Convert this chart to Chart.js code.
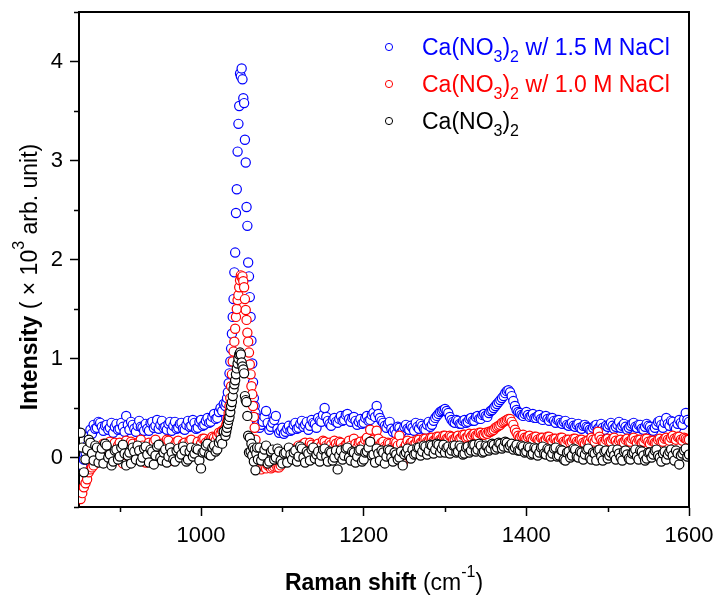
<!DOCTYPE html>
<html>
<head>
<meta charset="utf-8">
<title>Raman spectra</title>
<script src="https://cdn.jsdelivr.net/npm/chart.js@4.4.0/dist/chart.umd.min.js"></script>
<style>
  html, body { margin: 0; padding: 0; background: #fff; }
  canvas { display: block; }
</style>
</head>
<body>
<canvas id="spectra" width="717" height="596"></canvas>
<script>
const FONT = "'Liberation Sans', Arial, sans-serif";

// Raman shift (cm-1): 2 cm-1 steps, 1 cm-1 across the 1050 band
const ramanShift = [
  852, 854, 856, 858, 860, 862, 864, 866, 868, 870,
  872, 874, 876, 878, 880, 882, 884, 886, 888, 890,
  892, 894, 896, 898, 900, 902, 904, 906, 908, 910,
  912, 914, 916, 918, 920, 922, 924, 926, 928, 930,
  932, 934, 936, 938, 940, 942, 944, 946, 948, 950,
  952, 954, 956, 958, 960, 962, 964, 966, 968, 970,
  972, 974, 976, 978, 980, 982, 984, 986, 988, 990,
  992, 994, 996, 998, 1000, 1002, 1004, 1006, 1008, 1010,
  1012, 1014, 1016, 1018, 1020, 1022, 1024, 1026, 1028,
  1030, 1031, 1032, 1033, 1034, 1035, 1036, 1037, 1038, 1039,
  1040, 1041, 1042, 1043, 1044, 1045, 1046, 1047, 1048, 1049,
  1050, 1051, 1052, 1053, 1054, 1055, 1056, 1057, 1058, 1059,
  1060, 1061, 1062, 1063, 1064, 1065, 1066, 1067, 1068, 1069,
  1070,
  1072, 1074, 1076, 1078, 1080, 1082, 1084, 1086, 1088, 1090,
  1092, 1094, 1096, 1098, 1100, 1102, 1104, 1106, 1108, 1110,
  1112, 1114, 1116, 1118, 1120, 1122, 1124, 1126, 1128, 1130,
  1132, 1134, 1136, 1138, 1140, 1142, 1144, 1146, 1148, 1150,
  1152, 1154, 1156, 1158, 1160, 1162, 1164, 1166, 1168, 1170,
  1172, 1174, 1176, 1178, 1180, 1182, 1184, 1186, 1188, 1190,
  1192, 1194, 1196, 1198, 1200, 1202, 1204, 1206, 1208, 1210,
  1212, 1214, 1216, 1218, 1220, 1222, 1224, 1226, 1228, 1230,
  1232, 1234, 1236, 1238, 1240, 1242, 1244, 1246, 1248, 1250,
  1252, 1254, 1256, 1258, 1260, 1262, 1264, 1266, 1268, 1270,
  1272, 1274, 1276, 1278, 1280, 1282, 1284, 1286, 1288, 1290,
  1292, 1294, 1296, 1298, 1300, 1302, 1304, 1306, 1308, 1310,
  1312, 1314, 1316, 1318, 1320, 1322, 1324, 1326, 1328, 1330,
  1332, 1334, 1336, 1338, 1340, 1342, 1344, 1346, 1348, 1350,
  1352, 1354, 1356, 1358, 1360, 1362, 1364, 1366, 1368, 1370,
  1372, 1374, 1376, 1378, 1380, 1382, 1384, 1386, 1388, 1390,
  1392, 1394, 1396, 1398, 1400, 1402, 1404, 1406, 1408, 1410,
  1412, 1414, 1416, 1418, 1420, 1422, 1424, 1426, 1428, 1430,
  1432, 1434, 1436, 1438, 1440, 1442, 1444, 1446, 1448, 1450,
  1452, 1454, 1456, 1458, 1460, 1462, 1464, 1466, 1468, 1470,
  1472, 1474, 1476, 1478, 1480, 1482, 1484, 1486, 1488, 1490,
  1492, 1494, 1496, 1498, 1500, 1502, 1504, 1506, 1508, 1510,
  1512, 1514, 1516, 1518, 1520, 1522, 1524, 1526, 1528, 1530,
  1532, 1534, 1536, 1538, 1540, 1542, 1544, 1546, 1548, 1550,
  1552, 1554, 1556, 1558, 1560, 1562, 1564, 1566, 1568, 1570,
  1572, 1574, 1576, 1578, 1580, 1582, 1584, 1586, 1588, 1590,
  1592, 1594, 1596, 1598, 1600
];

// Intensity (x10^3 arb. unit), Ca(NO3)2 with 1.5 M NaCl
const nacl15 = [
  -0.05, -0.08, -0.02, 0.05, 0.12, 0.22, 0.28, 0.24, 0.33, 0.29,
  0.30, 0.36, 0.35, 0.31, 0.27, 0.32, 0.33, 0.28, 0.30, 0.35,
  0.25, 0.31, 0.34, 0.28, 0.29, 0.35, 0.31, 0.26, 0.42, 0.33,
  0.28, 0.36, 0.33, 0.29, 0.26, 0.32, 0.37, 0.31, 0.30, 0.27,
  0.34, 0.29, 0.27, 0.35, 0.36, 0.30, 0.32, 0.38, 0.29, 0.33,
  0.37, 0.30, 0.31, 0.28, 0.34, 0.36, 0.27, 0.32, 0.36, 0.29,
  0.30, 0.34, 0.35, 0.29, 0.28, 0.33, 0.37, 0.31, 0.32, 0.38,
  0.35, 0.29, 0.30, 0.36, 0.38, 0.32, 0.33, 0.37, 0.40, 0.35,
  0.36, 0.41, 0.44, 0.39, 0.40, 0.46, 0.50, 0.47, 0.54,
  0.52, 0.55, 0.60, 0.66, 0.75, 0.85, 0.97, 1.10, 1.25, 1.42,
  1.60, 1.87, 2.07, 2.47, 2.71, 3.09, 3.37, 3.55, 3.88, 3.85,
  3.93, 3.82, 3.63, 3.58, 3.21, 2.98, 2.53, 2.34, 1.97, 1.83,
  1.62, 1.42, 1.18, 0.95, 0.76, 0.60, 0.52, 0.45, 0.40, 0.36,
  0.33,
  0.30, 0.33, 0.36, 0.41, 0.47, 0.35, 0.28, 0.31, 0.35, 0.38,
  0.42, 0.29, 0.25, 0.27, 0.30, 0.24, 0.26, 0.29, 0.32, 0.27,
  0.28, 0.33, 0.35, 0.29, 0.30, 0.34, 0.37, 0.31, 0.33, 0.36,
  0.28, 0.32, 0.38, 0.35, 0.34, 0.30, 0.40, 0.37, 0.36, 0.43,
  0.50, 0.41, 0.37, 0.34, 0.32, 0.38, 0.40, 0.36, 0.35, 0.39,
  0.42, 0.37, 0.38, 0.43, 0.44, 0.39, 0.36, 0.40, 0.41, 0.37,
  0.33, 0.36, 0.39, 0.34, 0.35, 0.40, 0.42, 0.37, 0.38, 0.43,
  0.45, 0.41, 0.52, 0.44, 0.40, 0.37, 0.35, 0.32, 0.30, 0.34,
  0.36, 0.29, 0.26, 0.28, 0.24, 0.31, 0.30, 0.25, 0.27, 0.31,
  0.33, 0.29, 0.28, 0.32, 0.30, 0.27, 0.35, 0.31, 0.29, 0.34,
  0.32, 0.29, 0.28, 0.33, 0.36, 0.31, 0.33, 0.37, 0.40, 0.42,
  0.44, 0.46, 0.47, 0.48, 0.49, 0.47, 0.45, 0.41, 0.38, 0.36,
  0.35, 0.38, 0.37, 0.34, 0.34, 0.37, 0.38, 0.35, 0.36, 0.39,
  0.40, 0.37, 0.37, 0.41, 0.42, 0.39, 0.39, 0.43, 0.44, 0.42,
  0.41, 0.45, 0.47, 0.48, 0.50, 0.52, 0.54, 0.56, 0.58, 0.60,
  0.62, 0.65, 0.67, 0.68, 0.66, 0.62, 0.57, 0.52, 0.48, 0.46,
  0.45, 0.43, 0.42, 0.44, 0.46, 0.43, 0.41, 0.42, 0.44, 0.40,
  0.40, 0.42, 0.43, 0.39, 0.38, 0.41, 0.42, 0.39, 0.37, 0.40,
  0.40, 0.37, 0.35, 0.38, 0.38, 0.35, 0.34, 0.36, 0.37, 0.33,
  0.32, 0.34, 0.35, 0.32, 0.31, 0.33, 0.34, 0.30, 0.29, 0.32,
  0.33, 0.31, 0.30, 0.28, 0.27, 0.30, 0.32, 0.33, 0.29, 0.31,
  0.34, 0.30, 0.28, 0.32, 0.31, 0.33, 0.35, 0.32, 0.29, 0.31,
  0.33, 0.36, 0.30, 0.32, 0.34, 0.31, 0.28, 0.30, 0.32, 0.34,
  0.35, 0.31, 0.30, 0.33, 0.33, 0.29, 0.28, 0.31, 0.34, 0.32,
  0.31, 0.28, 0.27, 0.30, 0.33, 0.36, 0.37, 0.33, 0.30, 0.35,
  0.40, 0.34, 0.32, 0.37, 0.36, 0.31, 0.29, 0.34, 0.38, 0.35,
  0.33, 0.39, 0.45, 0.38, 0.36
];

// Ca(NO3)2 with 1.0 M NaCl
const nacl10 = [
  -0.42, -0.36, -0.30, -0.26, -0.22, -0.15, -0.12, -0.10, -0.08, -0.02,
  0.02, 0.09, 0.06, -0.03, 0.14, 0.11, -0.04, 0.08, 0.16, 0.05,
  0.10, 0.15, 0.03, 0.12, 0.15, 0.09, -0.06, 0.13, 0.17, 0.04,
  0.08, 0.16, 0.14, 0.07, 0.01, 0.11, 0.16, 0.18, 0.12, 0.05,
  -0.05, 0.10, 0.15, 0.08, 0.09, 0.16, 0.18, 0.06, 0.02, 0.13,
  0.14, 0.07, 0.11, 0.18, 0.17, 0.09, -0.03, 0.10, 0.13, 0.16,
  0.17, 0.08, 0.06, 0.14, 0.15, 0.11, 0.10, 0.17, 0.18, 0.09,
  0.03, 0.12, 0.16, 0.10, 0.14, 0.19, 0.19, 0.15, 0.12, 0.18,
  0.18, 0.21, 0.20, 0.17, 0.22, 0.25, 0.24, 0.27, 0.28,
  0.30, 0.33, 0.36, 0.40, 0.45, 0.52, 0.60, 0.72, 0.84, 0.97,
  1.07, 1.17, 1.30, 1.42, 1.50, 1.59, 1.64, 1.72, 1.79, 1.84,
  1.82, 1.83, 1.78, 1.72, 1.60, 1.49, 1.39, 1.26, 1.17, 1.06,
  0.94, 0.84, 0.72, 0.64, 0.52, 0.41, 0.30, 0.18, 0.01, 0.08,
  -0.04,
  -0.10, -0.12, -0.08, -0.10, -0.11, -0.08, -0.09, -0.11, -0.10, -0.09,
  -0.07, -0.10, -0.10, -0.08, -0.05, -0.04, -0.02, 0.01, 0.03, 0.06,
  0.08, 0.04, 0.05, 0.10, 0.12, 0.08, 0.10, 0.14, 0.15, 0.09,
  0.11, 0.15, 0.13, 0.07, 0.09, 0.13, 0.14, 0.10, 0.12, 0.17,
  0.16, 0.12, 0.10, 0.15, 0.13, 0.09, 0.17, 0.14, 0.11, 0.16,
  0.15, 0.10, 0.08, 0.13, 0.14, 0.17, 0.12, 0.09, 0.19, 0.14,
  0.10, 0.15, 0.16, 0.12, 0.13, 0.18, 0.20, 0.15, 0.28, 0.17,
  0.18, 0.14, 0.27, 0.19, 0.12, 0.15, 0.16, 0.11, 0.10, 0.15,
  0.14, 0.09, 0.11, 0.16, 0.15, 0.12, 0.22, 0.14, -0.06, 0.10,
  0.13, 0.17, 0.12, 0.15, 0.16, 0.13, 0.14, 0.18, 0.18, 0.15,
  0.15, 0.19, 0.19, 0.16, 0.16, 0.20, 0.20, 0.17, 0.17, 0.21,
  0.21, 0.18, 0.18, 0.22, 0.22, 0.19, 0.19, 0.22, 0.21, 0.18,
  0.18, 0.21, 0.22, 0.19, 0.20, 0.23, 0.23, 0.20, 0.21, 0.24,
  0.21, 0.23, 0.24, 0.22, 0.22, 0.25, 0.25, 0.23, 0.23, 0.25,
  0.24, 0.26, 0.26, 0.27, 0.28, 0.30, 0.31, 0.32, 0.33, 0.35,
  0.36, 0.37, 0.38, 0.39, 0.39, 0.36, 0.33, 0.28, 0.25, 0.22,
  0.20, 0.22, 0.23, 0.20, 0.19, 0.21, 0.22, 0.19, 0.18, 0.21,
  0.21, 0.18, 0.17, 0.20, 0.20, 0.17, 0.18, 0.21, 0.21, 0.18,
  0.16, 0.19, 0.19, 0.16, 0.17, 0.20, 0.20, 0.16, 0.15, 0.18,
  0.18, 0.15, 0.16, 0.19, 0.19, 0.16, 0.15, 0.18, 0.18, 0.15,
  0.14, 0.17, 0.17, 0.15, 0.20, 0.18, 0.16, 0.19, 0.26, 0.21,
  0.18, 0.16, 0.15, 0.18, 0.19, 0.16, 0.16, 0.19, 0.20, 0.17,
  0.14, 0.17, 0.18, 0.15, 0.15, 0.18, 0.19, 0.16, 0.16, 0.19,
  0.20, 0.17, 0.15, 0.18, 0.18, 0.15, 0.16, 0.19, 0.19, 0.16,
  0.14, 0.17, 0.17, 0.15, 0.15, 0.18, 0.19, 0.16, 0.16, 0.19,
  0.20, 0.18, 0.17, 0.20, 0.22, 0.19, 0.18, 0.21, 0.21, 0.18,
  0.17, 0.20, 0.19, 0.18, 0.18
];

// Ca(NO3)2 alone
const pure = [
  0.25, 0.10, -0.15, -0.02, 0.08, 0.18, 0.15, 0.04, -0.03, 0.12,
  0.10, -0.05, 0.02, 0.09, -0.06, 0.14, 0.12, 0.00, 0.03, -0.08,
  -0.04, 0.07, 0.08, -0.02, 0.01, 0.10, 0.13, 0.04, -0.08, 0.02,
  0.05, -0.06, 0.10, 0.06, -0.02, 0.12, 0.07, -0.04, 0.00, 0.09,
  0.11, 0.03, -0.05, 0.08, 0.06, -0.07, 0.02, 0.11, 0.13, 0.00,
  -0.03, 0.05, 0.08, -0.05, 0.01, 0.10, 0.05, -0.02, -0.04, 0.07,
  0.09, 0.00, 0.03, 0.11, 0.07, -0.04, -0.02, 0.06, 0.10, 0.01,
  0.04, 0.09, 0.08, -0.03, -0.11, 0.05, 0.06, 0.12, 0.14, 0.03,
  0.02, 0.10, 0.12, 0.06, 0.08, 0.15, 0.18, 0.14, 0.26,
  0.22, 0.26, 0.30, 0.34, 0.38, 0.41, 0.46, 0.52, 0.56, 0.62,
  0.69, 0.74, 0.78, 0.84, 0.90, 0.95, 1.00, 1.04, 1.06, 1.04,
  0.96, 0.92, 0.89, 0.85, 0.62, 0.58, 0.56, 0.42, 0.22, 0.05,
  0.20, 0.06, 0.14, 0.02, 0.10, -0.04, 0.08, -0.13, 0.04, 0.10,
  -0.02,
  0.10, -0.03, 0.02, 0.08, 0.12, -0.06, -0.04, 0.06, 0.08, -0.02,
  0.00, 0.09, 0.06, -0.03, -0.06, 0.04, 0.05, -0.05, 0.10, 0.03,
  -0.02, 0.05, 0.07, -0.04, 0.01, 0.11, 0.09, 0.00, -0.05, 0.06,
  0.04, -0.03, 0.08, 0.10, -0.01, 0.03, 0.06, -0.04, 0.02, 0.08,
  0.09, 0.01, -0.04, 0.06, 0.05, -0.03, 0.00, 0.07, -0.12, 0.02,
  0.07, -0.02, 0.02, 0.09, 0.10, 0.00, -0.03, 0.06, 0.05, -0.05,
  0.01, 0.07, 0.08, -0.04, -0.02, 0.05, 0.06, 0.10, 0.16, 0.02,
  0.03, -0.05, 0.09, 0.04, -0.03, 0.07, 0.05, -0.06, 0.01, 0.08,
  0.07, 0.00, -0.04, 0.05, 0.03, -0.02, 0.00, 0.06, -0.08, 0.03,
  0.05, 0.09, 0.02, -0.01, 0.08, 0.03, 0.04, 0.10, 0.10, 0.02,
  0.06, 0.12, 0.11, 0.03, 0.07, 0.13, 0.12, 0.04, 0.08, 0.14,
  0.13, 0.05, 0.09, 0.13, 0.05, 0.10, 0.11, 0.04, 0.07, 0.12,
  0.12, 0.05, 0.06, 0.12, 0.10, 0.03, 0.04, 0.10, 0.11, 0.05,
  0.07, 0.13, 0.13, 0.06, 0.08, 0.14, 0.12, 0.05, 0.06, 0.12,
  0.11, 0.07, 0.09, 0.14, 0.13, 0.08, 0.10, 0.15, 0.14, 0.09,
  0.11, 0.16, 0.15, 0.10, 0.12, 0.14, 0.08, 0.10, 0.13, 0.07,
  0.07, 0.12, 0.11, 0.05, 0.06, 0.11, 0.10, 0.03, 0.04, 0.10,
  0.09, 0.02, 0.05, 0.10, 0.11, 0.04, 0.03, 0.09, 0.08, 0.01,
  0.04, 0.09, 0.10, 0.01, 0.02, 0.08, 0.07, -0.02, -0.03, 0.05,
  0.06, 0.00, 0.02, 0.09, 0.08, 0.01, 0.00, 0.06, 0.05, -0.02,
  0.03, 0.08, 0.09, 0.00, -0.02, 0.05, 0.04, -0.03, 0.07, 0.08,
  0.01, -0.03, 0.06, 0.07, -0.01, 0.02, 0.05, 0.08, 0.02, -0.02,
  0.08, 0.04, 0.00, -0.03, 0.06, 0.07, 0.03, -0.01, -0.02, 0.04,
  0.05, 0.08, 0.01, -0.02, 0.07, 0.06, 0.02, -0.03, -0.01, 0.05,
  0.05, 0.00, 0.03, 0.07, 0.08, 0.02, 0.00, -0.04, 0.04, 0.06,
  -0.02, 0.03, 0.06, 0.08, 0.02, -0.03, 0.07, 0.04, -0.07, 0.02,
  0.04, 0.07, 0.09, 0.01, 0.03
];

const xTicks = [1000, 1200, 1400, 1600];
const xMinor = [900, 1100, 1300, 1500];
const yTicks = [0, 1, 2, 3, 4];
const yMinor = [-0.5, 0.5, 1.5, 2.5, 3.5, 4.5];

// legend rows: label pieces (sub = subscript)
const legendRows = [
  { color: '#0000ff', parts: [{ t: 'Ca(NO' }, { t: '3', sub: true }, { t: ')' }, { t: '2', sub: true }, { t: ' w/ 1.5 M NaCl' }] },
  { color: '#ff0000', parts: [{ t: 'Ca(NO' }, { t: '3', sub: true }, { t: ')' }, { t: '2', sub: true }, { t: ' w/ 1.0 M NaCl' }] },
  { color: '#000000', parts: [{ t: 'Ca(NO' }, { t: '3', sub: true }, { t: ')' }, { t: '2', sub: true }] }
];

const yTitle = [{ t: 'Intensity', bold: true }, { t: ' ( \u00d7 10' }, { t: '3', sup: true }, { t: ' arb. unit)' }];
const xTitle = [{ t: 'Raman shift', bold: true }, { t: ' (cm' }, { t: '-1', sup: true }, { t: ')' }];

function fontFor(p, size) {
  const s = (p.sup || p.sub) ? Math.round(size * 0.68) : size;
  return (p.bold ? 'bold ' : '') + s + 'px ' + FONT;
}

function richWidth(ctx, parts, size) {
  let w = 0;
  parts.forEach(p => { ctx.font = fontFor(p, size); w += ctx.measureText(p.t).width; });
  return w;
}

function drawRich(ctx, parts, x, y, size) {
  let cx = x;
  parts.forEach(p => {
    ctx.font = fontFor(p, size);
    const dy = p.sup ? -size * 0.55 : p.sub ? size * 0.32 : 0;
    ctx.fillText(p.t, cx, y + dy);
    cx += ctx.measureText(p.t).width;
  });
}

function toPoints(values) {
  return ramanShift.map((x, i) => ({ x: x, y: values[i] }));
}

function series(label, values, color) {
  return {
    label: label,
    data: toPoints(values),
    showLine: false,
    pointStyle: 'circle',
    pointRadius: 4.6,
    pointBorderWidth: 1.2,
    pointBorderColor: color,
    pointBackgroundColor: '#ffffff',
    clip: 0
  };
}

// frame, minor ticks, axis titles and legend
const decorations = {
  id: 'decorations',
  afterDraw(chart) {
    const { ctx, chartArea: a, scales: { x, y } } = chart;
    ctx.save();
    ctx.strokeStyle = '#000';
    ctx.lineWidth = 2;
    ctx.beginPath();
    ctx.moveTo(a.left, a.top);
    ctx.lineTo(a.right, a.top);
    ctx.lineTo(a.right, a.bottom);
    ctx.stroke();

    ctx.lineWidth = 1.5;
    ctx.beginPath();
    xMinor.forEach(v => {
      const px = Math.round(x.getPixelForValue(v)) + 0.5;
      ctx.moveTo(px, a.bottom);
      ctx.lineTo(px, a.bottom + 5);
    });
    yMinor.forEach(v => {
      const py = Math.round(y.getPixelForValue(v)) + 0.5;
      ctx.moveTo(a.left, py);
      ctx.lineTo(a.left - 5, py);
    });
    ctx.stroke();

    ctx.fillStyle = '#000';
    ctx.textBaseline = 'alphabetic';
    ctx.textAlign = 'left';

    const xw = richWidth(ctx, xTitle, 23);
    drawRich(ctx, xTitle, (a.left + a.right) / 2 - xw / 2, 590, 23);

    const yw = richWidth(ctx, yTitle, 23);
    ctx.save();
    ctx.translate(37, 277 + yw / 2);
    ctx.rotate(-Math.PI / 2);
    drawRich(ctx, yTitle, 0, 0, 23);
    ctx.restore();

    legendRows.forEach((row, i) => {
      const cy = 47 + i * 37;
      ctx.strokeStyle = row.color;
      ctx.lineWidth = 1;
      ctx.beginPath();
      ctx.arc(389, cy, 3.6, 0, Math.PI * 2);
      ctx.stroke();
      ctx.fillStyle = row.color;
      drawRich(ctx, row.parts, 422, cy + 8, 23);
    });
    ctx.restore();
  }
};

const axisFont = { family: FONT, size: 22 };

function noPadding(scale) {
  scale.paddingTop = 0;
  scale.paddingBottom = 0;
  scale.paddingLeft = 0;
  scale.paddingRight = 0;
}

new Chart(document.getElementById('spectra'), {
  type: 'scatter',
  data: {
    datasets: [
      series('Ca(NO3)2', pure, '#000000'),
      series('Ca(NO3)2 w/ 1.0 M NaCl', nacl10, '#ff0000'),
      series('Ca(NO3)2 w/ 1.5 M NaCl', nacl15, '#0000ff')
    ]
  },
  options: {
    responsive: false,
    animation: false,
    devicePixelRatio: 1,
    layout: { padding: { left: 0, right: 28, top: 12, bottom: 0 } },
    plugins: { legend: { display: false }, tooltip: { enabled: false } },
    events: [],
    scales: {
      x: {
        type: 'linear',
        min: 850,
        max: 1600,
        afterFit(scale) { scale.height = 89; noPadding(scale); },
        afterBuildTicks(scale) { scale.ticks = xTicks.map(v => ({ value: v })); },
        grid: { drawOnChartArea: false, drawTicks: true, tickLength: 9, tickColor: '#000', tickWidth: 1.5 },
        border: { display: true, color: '#000', width: 2 },
        ticks: { font: axisFont, color: '#000', padding: 7, maxRotation: 0, autoSkip: false, callback: v => String(v) }
      },
      y: {
        type: 'linear',
        min: -0.5,
        max: 4.5,
        afterFit(scale) { scale.width = 79; noPadding(scale); },
        afterBuildTicks(scale) { scale.ticks = yTicks.map(v => ({ value: v })); },
        grid: { drawOnChartArea: false, drawTicks: true, tickLength: 9, tickColor: '#000', tickWidth: 1.5 },
        border: { display: true, color: '#000', width: 2 },
        ticks: { font: axisFont, color: '#000', padding: 7, autoSkip: false, callback: v => String(v) }
      }
    }
  },
  plugins: [decorations]
});
</script>
</body>
</html>
